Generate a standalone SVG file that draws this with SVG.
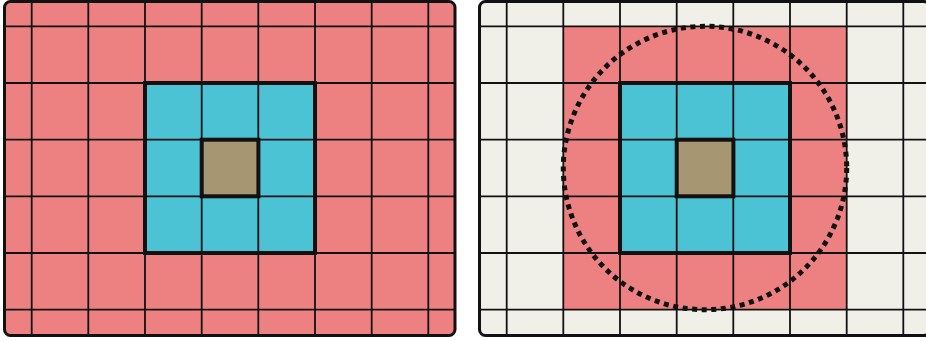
<svg xmlns="http://www.w3.org/2000/svg" xmlns:xlink="http://www.w3.org/1999/xlink" width="926" height="341" viewBox="0 0 926 341">
<style>
.grid line{stroke:#111;stroke-width:1.8}
.frame{fill:none;stroke:#111;stroke-width:3}
.thick{fill:none;stroke:#111;stroke-width:4}
.pink{fill:#ED8080}
.blue{fill:#4BC3D5}
.brown{fill:#A69671}
.cream{fill:#F0F0E8}
.ring{fill:none;stroke:#111;stroke-width:5;stroke-dasharray:5 4.6}
</style>
<defs>
<g id="gridlines" class="grid">
<line x1="31.7" y1="1.5" x2="31.7" y2="335.5"/>
<line x1="88.3" y1="1.5" x2="88.3" y2="335.5"/>
<line x1="145" y1="1.5" x2="145" y2="335.5"/>
<line x1="201.7" y1="1.5" x2="201.7" y2="335.5"/>
<line x1="258.3" y1="1.5" x2="258.3" y2="335.5"/>
<line x1="315" y1="1.5" x2="315" y2="335.5"/>
<line x1="371.7" y1="1.5" x2="371.7" y2="335.5"/>
<line x1="428.3" y1="1.5" x2="428.3" y2="335.5"/>
<line x1="4.5" y1="26.3" x2="455" y2="26.3"/>
<line x1="4.5" y1="83" x2="455" y2="83"/>
<line x1="4.5" y1="139.7" x2="455" y2="139.7"/>
<line x1="4.5" y1="196.3" x2="455" y2="196.3"/>
<line x1="4.5" y1="253" x2="455" y2="253"/>
<line x1="4.5" y1="309.7" x2="455" y2="309.7"/>
</g>
<clipPath id="panelclip"><rect x="4.5" y="1.5" width="450.5" height="334" rx="6"/></clipPath>
</defs>
<g id="panel-left">
<rect class="pink" x="4.5" y="1.5" width="450.5" height="334" rx="6"/>
<rect class="blue" x="145" y="83" width="170" height="170"/>
<rect class="brown" x="201.7" y="139.7" width="56.7" height="56.6"/>
<use xlink:href="#gridlines" clip-path="url(#panelclip)"/>
<rect class="thick" x="145" y="83" width="170" height="170"/>
<rect class="thick" x="201.7" y="139.7" width="56.7" height="56.6"/>
<rect class="frame" x="4.5" y="1.5" width="450.5" height="334" rx="6"/>
</g>
<g id="panel-right" transform="translate(475,0)">
<rect class="cream" x="4.5" y="1.5" width="450.5" height="334" rx="6"/>
<rect class="pink" x="88.3" y="26.3" width="283.4" height="283.4"/>
<rect class="blue" x="145" y="83" width="170" height="170"/>
<rect class="brown" x="201.7" y="139.7" width="56.7" height="56.6"/>
<use xlink:href="#gridlines" clip-path="url(#panelclip)"/>
<rect class="thick" x="145" y="83" width="170" height="170"/>
<rect class="thick" x="201.7" y="139.7" width="56.7" height="56.6"/>
<rect class="frame" x="4.5" y="1.5" width="450.5" height="334" rx="6"/>
<circle id="radius" class="ring" cx="230" cy="168" r="141.7"/>
</g>
</svg>
